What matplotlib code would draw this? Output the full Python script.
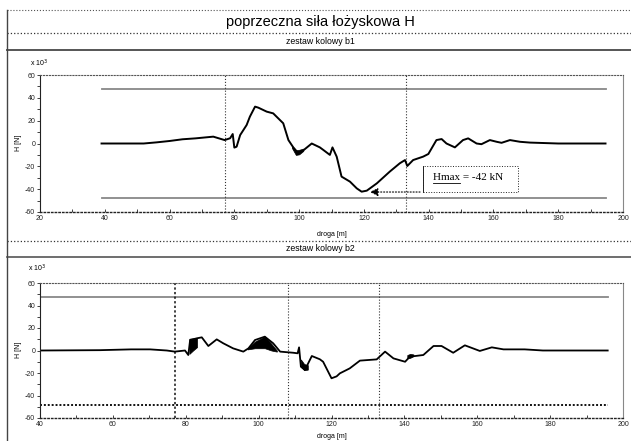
import matplotlib
matplotlib.use("Agg")
import matplotlib.pyplot as plt
from matplotlib.lines import Line2D
from matplotlib.patches import Rectangle
from matplotlib.ticker import MultipleLocator

plt.rcParams['font.family'] = ['Liberation Sans', 'DejaVu Sans']
plt.rcParams['axes.unicode_minus'] = False

title = "poprzeczna siła łożyskowa H"
sub1 = "zestaw kolowy b1"
sub2 = "zestaw kolowy b2"
xlabel = "droga [m]"
ylabel = "H [N]"
scale_label = "x 10$^3$"
annot_text = "Hmax = -42 kN"

# wheelset b1
b1_x = [39, 45, 52, 56, 60, 64, 68, 73.5, 77, 78.7, 79.5, 80, 80.7, 81.8, 83.8, 84.8,
        86.4, 87.4, 90, 92, 95.1, 96.7, 98.2, 99.8, 101.3, 103.9, 106.4, 107.5, 109.5,
        110.3, 111.6, 113.1, 115.7, 117.8, 119.3, 120.9, 124, 128, 131.1, 132.7, 133.4,
        135.2, 138.3, 139.9, 142.4, 144, 145.5, 148.1, 150.6, 152.2, 154.8, 156.3, 158.9,
        161, 162.5, 165.1, 168.2, 171.3, 180, 194.6]
b1_y = [0, 0, 0, 1, 2.2, 3.7, 4.5, 6, 3, 4.6, 8.3, -3.6, -2.8, 7.4, 16.2, 23.5,
        32.3, 31.4, 27.9, 26.4, 17.7, 3, -3.4, -8.6, -6, 0, -3.4, -5.7, -10,
        -3.4, -11.5, -29, -33.4, -39.3, -42.2, -41.3, -34.9, -24.6, -17.3, -14.5, -19.7,
        -14.5, -11.5, -9.2, 3, 3.9, 0, -3.4, 3, 4.5, 0, -0.6, 3,
        1.5, 0.6, 3, 1.5, 0.8, 0, 0]
b1_band_x = [97.8, 99, 100, 101.3]
b1_band_lo = [-4, -10, -9.5, -6.5]
b1_band_hi = [-2, -6, -5.5, -4.5]
b1_limit = 48
b1_vlines = [77, 133]
b1_hmax = (121, -42.5)

# wheelset b2
b2_x = [40, 56.5, 65, 70.2, 74.8, 77, 78.4, 79.8, 80.7, 81.2, 83, 84.4, 86.2, 88.5,
        90.3, 93, 95.8, 97.2, 99, 101.7, 104, 105.9, 109.5, 110.7, 111.1, 111.6, 112.7,
        114.6, 116.8, 117.7, 120, 121.4, 122.3, 125, 127.8, 132.4, 134.7, 137, 140.2,
        141.5, 145.2, 148, 150.2, 153.4, 156.6, 160.7, 164, 167.2, 173, 178, 195.8]
b2_y = [0, 0.3, 1, 1, 0, -1, -0.5, 0, -4, 9.3, 10.8, 11.7, 4, 9.9,
        6.4, 1.9, -1, 1.9, 9.3, 12.3, 6.4, -1, -2, -2.5, 2.8, -14.4, -17.3,
        -4.9, -7.8, -10, -24.7, -23, -20.3, -15.9, -9, -7.9, -1, -7, -10,
        -5.5, -4, 4, 4, -2, 4.6, -0.4, 2.8, 1, 1, 0, 0]
b2_band1_x = [81, 82, 83.1]
b2_band1_lo = [-3, 0, 3]
b2_band1_hi = [10.5, 10.8, 11]
b2_band2_x = [97, 99, 101.7, 103.5, 105]
b2_band2_lo = [1, 2, 2, 0, -1]
b2_band2_hi = [2, 8, 12.5, 6, 0]
b2_band3_x = [111.6, 112.5, 113.5]
b2_band3_lo = [-14, -17.5, -17]
b2_band3_hi = [-8, -12, -13]
b2_band4_x = [140.8, 141.6, 142.5]
b2_band4_lo = [-7, -6.5, -5]
b2_band4_hi = [-4, -3, -3.5]
b2_limit = 48
b2_vlines = [77, 108, 133]

W, H = 631, 441
fig = plt.figure(figsize=(W / 100, H / 100), dpi=100)
fig.patch.set_facecolor('white')

def fx(px):
    return px / W

def fy(py):
    return 1 - py / H

# frame lines
def hline(py, ls, lw, c):
    fig.add_artist(Line2D([fx(7), 1], [fy(py), fy(py)], transform=fig.transFigure,
                          ls=ls, lw=lw, color=c))

hline(10, ':', 0.8, '#555555')
hline(33, ':', 0.9, '#333333')
hline(49.5, '-', 1.4, '#555555')
hline(241, ':', 0.9, '#333333')
hline(256.5, '-', 1.2, '#555555')
fig.add_artist(Line2D([fx(7), fx(7)], [fy(10), 0], transform=fig.transFigure,
                      ls='-', lw=1.0, color='#444444'))

fig.text(fx(320), fy(22), title, ha='center', va='center', fontsize=10.5)
fig.text(fx(320), fy(42), sub1, ha='center', va='center', fontsize=6.3)
fig.text(fx(320), fy(249), sub2, ha='center', va='center', fontsize=6.3)

def style_axes(ax, xmin, xmax, pad):
    ax.set_xlim(xmin, xmax)
    ax.set_ylim(-60, 60)
    ax.xaxis.set_major_locator(MultipleLocator(20))
    ax.xaxis.set_minor_locator(MultipleLocator(10))
    ax.yaxis.set_major_locator(MultipleLocator(20))
    ax.yaxis.set_minor_locator(MultipleLocator(10))
    ax.tick_params(axis='x', which='both', direction='in', length=2, width=0.6,
                   labelsize=5, pad=2, colors='#222222')
    ax.tick_params(axis='y', which='both', direction='out', length=2.5, width=0.6,
                   labelsize=5, pad=1, colors='#222222')
    ax.tick_params(right=False, top=False)
    ax.spines['top'].set_linestyle(':')
    ax.spines['top'].set_color('#555555')
    ax.spines['bottom'].set_linestyle(':')
    ax.spines['bottom'].set_color('#222222')
    ax.spines['bottom'].set_linewidth(1.0)
    ax.spines['right'].set_color('#888888')
    ax.spines['left'].set_color('#222222')
    ax.spines['left'].set_linewidth(0.8)
    ax.set_xlabel(xlabel, fontsize=5, labelpad=pad)

# top axes
ax1 = fig.add_axes([fx(40), fy(212), fx(623) - fx(40), fy(75) - fy(212)])
style_axes(ax1, 20, 200, 7)
ax1.plot([39, 194.6], [b1_limit, b1_limit], color='#888888', lw=1.3)
ax1.plot([39, 194.6], [-b1_limit, -b1_limit], color='#888888', lw=1.3)
for v in b1_vlines:
    ax1.axvline(v, color='#333333', ls=':', lw=0.8)
ax1.plot(b1_x, b1_y, color='black', lw=1.4)
ax1.fill_between(b1_band_x, b1_band_lo, b1_band_hi, color='black', lw=0.5)
bx0, bx1 = 138.2, 167.6
by0, by1 = -42.5, -19.7
ax1.add_patch(Rectangle((bx0, by0), bx1 - bx0, by1 - by0, fill=False,
                        ec='#222222', lw=0.7, ls=':'))
ax1.plot([bx0, bx0], [by0, by1], color='#222222', lw=0.7)
ax1.text(141.3, -29.5, annot_text, ha='left', va='center',
         fontsize=8, family='Liberation Serif')
ax1.plot([141.3, 149.6], [-34.8, -34.8], color='black', lw=0.6)
ax1.annotate('', xy=b1_hmax, xytext=(bx0, by0),
             arrowprops=dict(arrowstyle='-|>', color='black', lw=0.8, ls=':',
                             mutation_scale=12))
fig.text(fx(30), fy(63), scale_label, fontsize=5, va='center')
fig.text(fx(18), fy(143), ylabel, fontsize=5, rotation=90, ha='center', va='center')

# bottom axes
ax2 = fig.add_axes([fx(40), fy(418), fx(623) - fx(40), fy(283) - fy(418)])
style_axes(ax2, 40, 200, 4)
ax2.plot([40, 195.8], [b2_limit, b2_limit], color='#888888', lw=1.3)
ax2.plot([40, 195.8], [-b2_limit, -b2_limit], color='#111111', lw=1.4, ls=(0, (1, 1)))
ax2.axvline(b2_vlines[0], color='#111111', ls=(0, (1.5, 1.5)), lw=1.1)
for v in b2_vlines[1:]:
    ax2.axvline(v, color='#333333', ls=':', lw=0.8)
ax2.plot(b2_x, b2_y, color='black', lw=1.3)
for bxv, lo, hi in [(b2_band1_x, b2_band1_lo, b2_band1_hi),
                    (b2_band2_x, b2_band2_lo, b2_band2_hi),
                    (b2_band3_x, b2_band3_lo, b2_band3_hi),
                    (b2_band4_x, b2_band4_lo, b2_band4_hi)]:
    ax2.fill_between(bxv, lo, hi, color='black', lw=0.5)
fig.text(fx(28), fy(268), scale_label, fontsize=5, va='center')
fig.text(fx(18), fy(350), ylabel, fontsize=5, rotation=90, ha='center', va='center')

fig.savefig('out.png', dpi=100)
